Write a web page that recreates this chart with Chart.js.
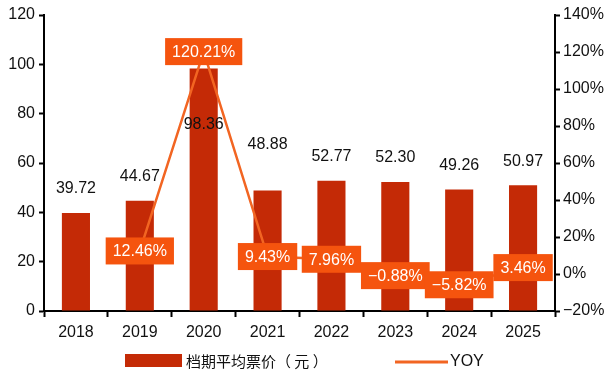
<!DOCTYPE html>
<html>
<head>
<meta charset="utf-8">
<script src="https://cdn.jsdelivr.net/npm/chart.js@4"></script>
<style>
  html, body { margin: 0; padding: 0; background: #fff; }
  #wrap { width: 608px; height: 372px; }
</style>
</head>
<body>
<div id="wrap"><canvas id="myChart" width="608" height="372"></canvas></div>
<script>
// data
const years = ['2018', '2019', '2020', '2021', '2022', '2023', '2024', '2025'];
const avgPrice = [39.72, 44.67, 98.36, 48.88, 52.77, 52.30, 49.26, 50.97];
const yoy = [null, 12.46, 120.21, 9.43, 7.96, -0.88, -5.82, 3.46];
const priceLabel = '档期平均票价（ 元 ）';
const yoyLabel = 'YOY';

const barColor = '#C42A06';
const lineColor = '#F26522';
const boxColor = '#F5540E';
const font = 'Liberation Sans, Arial, Helvetica, sans-serif';
const cjkFont = '"Noto Sans CJK SC", sans-serif';

// value labels over the bars; a couple are nudged off the YOY line
const priceLabelShift = [0, 0, 80, -22, 0, 0, 0, 0];

const labelsPlugin = {
    id: 'labels',
    afterDatasetsDraw(chart) {
        const ctx = chart.ctx;
        ctx.save();
        ctx.textAlign = 'center';
        ctx.textBaseline = 'middle';
        ctx.font = '16px ' + font;

        // bar values
        const bars = chart.getDatasetMeta(0).data;
        ctx.fillStyle = '#111';
        bars.forEach((bar, i) => {
            ctx.fillText(avgPrice[i].toFixed(2), bar.x, bar.y - 24 + priceLabelShift[i]);
        });

        // yoy boxes
        const pts = chart.getDatasetMeta(1).data;
        pts.forEach((pt, i) => {
            if (yoy[i] === null) return;
            const txt = (yoy[i] < 0 ? '\u2212' + Math.abs(yoy[i]).toFixed(2) : yoy[i].toFixed(2)) + '%';
            const w = ctx.measureText(txt).width + 14;
            const h = 27;
            ctx.fillStyle = boxColor;
            ctx.fillRect(pt.x - w / 2, pt.y - h / 2, w, h);
            ctx.fillStyle = '#fff';
            ctx.fillText(txt, pt.x, pt.y + 1);
        });
        ctx.restore();
    },
    afterDraw(chart) {
        // legend
        const ctx = chart.ctx;
        ctx.save();
        ctx.fillStyle = barColor;
        ctx.fillRect(125, 354, 57, 13);
        ctx.fillStyle = '#111';
        ctx.textBaseline = 'middle';
        ctx.textAlign = 'left';
        ctx.font = '15px ' + cjkFont;
        ctx.fillText(priceLabel, 186, 361);
        ctx.strokeStyle = lineColor;
        ctx.lineWidth = 3;
        ctx.beginPath();
        ctx.moveTo(395, 362);
        ctx.lineTo(448, 362);
        ctx.stroke();
        ctx.font = '16px ' + font;
        ctx.fillText(yoyLabel, 450, 362);
        ctx.restore();
    }
};

const axisGrid = {
    drawOnChartArea: false,
    drawTicks: true,
    tickLength: 5,
    tickWidth: 2,
    color: '#000'
};

const ctx = document.getElementById('myChart').getContext('2d');
new Chart(ctx, {
    data: {
        labels: years,
        datasets: [{
            type: 'bar',
            label: priceLabel,
            data: avgPrice,
            backgroundColor: barColor,
            categoryPercentage: 0.88,
            barPercentage: 0.5,
            yAxisID: 'y',
            order: 2
        }, {
            type: 'line',
            label: yoyLabel,
            data: yoy,
            borderColor: lineColor,
            borderWidth: 2.5,
            pointRadius: 0,
            tension: 0,
            yAxisID: 'y1',
            order: 1
        }]
    },
    plugins: [labelsPlugin],
    options: {
        responsive: false,
        animation: false,
        devicePixelRatio: 1,
        layout: { padding: { top: 15, bottom: 31, left: 0, right: 0 } },
        plugins: {
            legend: { display: false },
            tooltip: { enabled: false }
        },
        scales: {
            x: {
                offset: true,
                grid: Object.assign({}, axisGrid, { offset: true, tickLength: 6 }),
                border: { display: true, color: '#000', width: 2 },
                ticks: { color: '#111', font: { family: font, size: 16 }, padding: 6, maxRotation: 0 },
                afterFit(scale) { scale.height = 30; }
            },
            y: {
                position: 'left',
                min: 0,
                max: 120,
                grid: axisGrid,
                border: { display: true, color: '#000', width: 2 },
                ticks: { stepSize: 20, color: '#111', font: { family: font, size: 16 }, padding: 4 },
                afterFit(scale) { scale.width = 44; }
            },
            y1: {
                position: 'right',
                min: -20,
                max: 140,
                grid: axisGrid,
                border: { display: true, color: '#000', width: 2 },
                ticks: {
                    stepSize: 20,
                    color: '#111',
                    font: { family: font, size: 16 },
                    padding: 3,
                    callback: v => (v < 0 ? '\u2212' + Math.abs(v) : v) + '%'
                },
                afterFit(scale) { scale.width = 53; }
            }
        }
    }
});
</script>
</body>
</html>
